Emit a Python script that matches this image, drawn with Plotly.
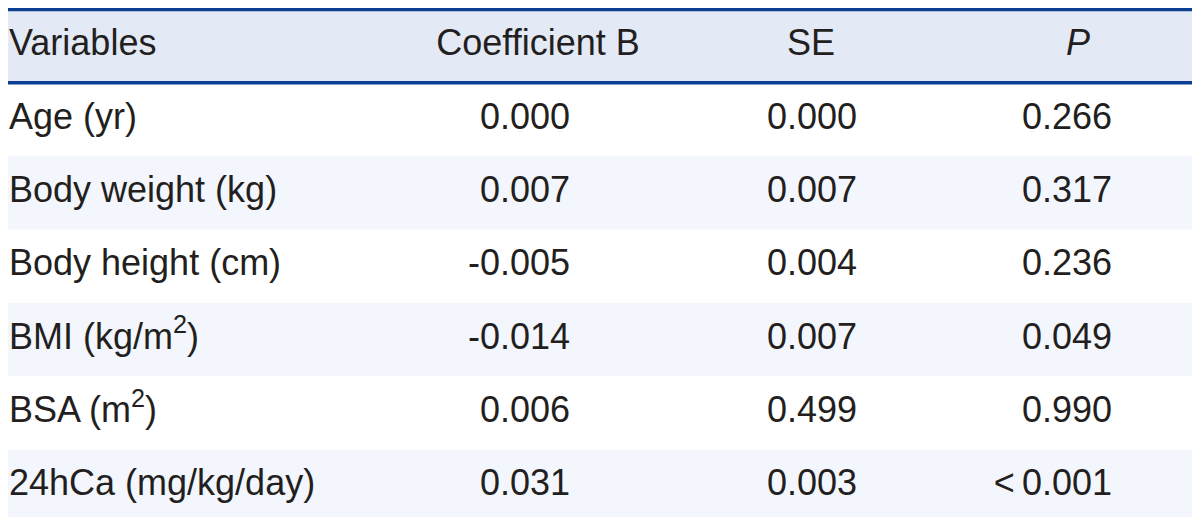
import plotly.graph_objects as go

# ---- data ----
headers = ["Variables", "Coefficient B", "SE", "<i>P</i>"]
variables = ["Age (yr)", "Body weight (kg)", "Body height (cm)",
             "BMI (kg/m<sup>2</sup>)", "BSA (m<sup>2</sup>)", "24hCa (mg/kg/day)"]
coef_b = ["0.000", "0.007", "-0.005", "-0.014", "0.006", "0.031"]
se = ["0.000", "0.007", "0.004", "0.007", "0.499", "0.003"]
p_values = ["0.266", "0.317", "0.236", "0.049", "0.990", "&lt;\u20090.001"]

# ---- layout constants ----
W, H = 1200, 517
FONT = "Liberation Sans, Arial, sans-serif"
FS = 36
TXT = "#231f20"
BLUE = "#0b3f91"
HEAD_BG = "#e3eaf6"
ALT_BG = "#f3f6fc"

n = len(variables)
unit = (515 - 1.5) / (n + 1)
y_top = -0.5 - 1.5 / unit
y_bot = n + 0.5 + 2 / unit

rows = list(range(1, n + 1))
tf = dict(family=FONT, size=FS, color=TXT)

fig = go.Figure()

# header texts
fig.add_trace(go.Scatter(x=[1], y=[0], text=[headers[0]], mode="text",
                         textposition="middle right", textfont=tf,
                         hoverinfo="skip", showlegend=False))
fig.add_trace(go.Scatter(x=[530, 803, 1070], y=[0, 0, 0], text=headers[1:], mode="text",
                         textposition="middle center", textfont=tf,
                         hoverinfo="skip", showlegend=False))

# body
fig.add_trace(go.Scatter(x=[1] * n, y=rows, text=variables, mode="text",
                         textposition="middle right", textfont=tf,
                         hoverinfo="skip", showlegend=False))
for xpos, col in [(562, coef_b), (849, se), (1104, p_values)]:
    fig.add_trace(go.Scatter(x=[xpos] * n, y=rows, text=col, mode="text",
                             textposition="middle left", textfont=tf,
                             hoverinfo="skip", showlegend=False))

shapes = []
shapes.append(dict(type="rect", xref="paper", yref="y", x0=0, x1=1, y0=-0.5, y1=0.5,
                   fillcolor=HEAD_BG, line=dict(width=0), layer="below"))
for r in rows:
    if r % 2 == 0:
        shapes.append(dict(type="rect", xref="paper", yref="y", x0=0, x1=1,
                           y0=r - 0.5, y1=r + 0.5, fillcolor=ALT_BG,
                           line=dict(width=0), layer="below"))
for yb in [-0.5, 0.5, n + 0.5]:
    shapes.append(dict(type="line", xref="paper", yref="y", x0=0, x1=1, y0=yb, y1=yb,
                       line=dict(color=BLUE, width=3.5)))

fig.update_layout(
    width=W, height=H,
    margin=dict(l=0, r=0, t=0, b=0),
    paper_bgcolor="white", plot_bgcolor="white",
    shapes=shapes,
    xaxis=dict(range=[0, W], visible=False, fixedrange=True),
    yaxis=dict(range=[y_bot, y_top], visible=False, fixedrange=True),
)

fig.write_html("out.html")
